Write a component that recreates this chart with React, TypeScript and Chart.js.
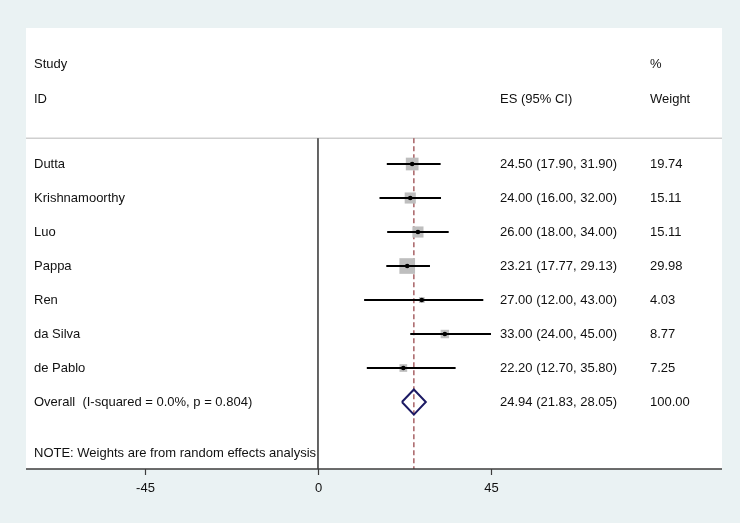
import React, { useEffect, useRef } from "react";
import { Chart, registerables } from "chart.js";

Chart.register(...registerables);

// ---- data ----
const studies = ["Dutta", "Krishnamoorthy", "Luo", "Pappa", "Ren", "da Silva", "de Pablo"];
const esValues = [24.5, 24.0, 26.0, 23.21, 27.0, 33.0, 22.2];
const ciLow = [17.9, 16.0, 18.0, 17.77, 12.0, 24.0, 12.7];
const ciHigh = [31.9, 32.0, 34.0, 29.13, 43.0, 45.0, 35.8];
const weights = [19.74, 15.11, 15.11, 29.98, 4.03, 8.77, 7.25];
const studyRows = [4, 5, 6, 7, 8, 9, 10];

const overallLabel = "Overall  (I-squared = 0.0%, p = 0.804)";
const overallES = 24.94;
const overallLow = 21.83;
const overallHigh = 28.05;
const overallWeight = 100.0;
const overallRow = 11;

const noteText = "NOTE: Weights are from random effects analysis";
const noteRow = 12.5;

const headerStudy = ["Study", "ID"];
const headerES = "ES (95% CI)";
const headerWeight = ["%", "Weight"];
const headerRows = [1.06, 2.09];
const dividerRow = 3.24;

const xTicks = [-45, 0, 45];

// ---- styles ----
const FONT = '13px "Liberation Sans", Arial, sans-serif';
const BG_OUTER = "#EAF2F3";
const TEXT = "#111111";

const fmt = (v: number) => v.toFixed(2);

export default function App() {
  const ref = useRef<HTMLCanvasElement | null>(null);

  useEffect(() => {
    if (!ref.current) return;
    const yMax = 12.97;

    const forestPlugin = {
      id: "forestPlugin",
      beforeDraw(chart: any) {
        const { ctx, chartArea } = chart;
        const xs = chart.scales.x;
        const ys = chart.scales.y;
        ctx.save();
        ctx.fillStyle = "#ffffff";
        ctx.fillRect(0, 0, chart.width, chart.height);
        ctx.fillStyle = BG_OUTER;
        ctx.fillRect(0, 0, 740, 523);
        ctx.fillStyle = "#ffffff";
        ctx.fillRect(chartArea.left, chartArea.top, chartArea.right - chartArea.left, chartArea.bottom - chartArea.top);
        // header divider
        const dy = ys.getPixelForValue(dividerRow);
        ctx.strokeStyle = "#CFCFCF";
        ctx.lineWidth = 1.5;
        ctx.beginPath();
        ctx.moveTo(chartArea.left, dy);
        ctx.lineTo(chartArea.right, dy);
        ctx.stroke();
        ctx.restore();
      },
      afterDatasetsDraw(chart: any) {
        const { ctx, chartArea } = chart;
        const xs = chart.scales.x;
        const ys = chart.scales.y;
        ctx.save();
        ctx.font = FONT;
        ctx.fillStyle = TEXT;
        ctx.textBaseline = "middle";
        ctx.textAlign = "left";
        const leftX = 34;
        const esX = 500;
        const wX = 650;
        // headers
        headerStudy.forEach((t, i) => ctx.fillText(t, leftX, ys.getPixelForValue(headerRows[i])));
        ctx.fillText(headerES, esX, ys.getPixelForValue(headerRows[1]));
        headerWeight.forEach((t, i) => ctx.fillText(t, wX, ys.getPixelForValue(headerRows[i])));
        // studies
        studies.forEach((s, i) => {
          const py = ys.getPixelForValue(studyRows[i]);
          ctx.fillText(s, leftX, py);
          ctx.fillText(`${fmt(esValues[i])} (${fmt(ciLow[i])}, ${fmt(ciHigh[i])})`, esX, py);
          ctx.fillText(fmt(weights[i]), wX, py);
        });
        const oy = ys.getPixelForValue(overallRow);
        ctx.fillText(overallLabel, leftX, oy);
        ctx.fillText(`${fmt(overallES)} (${fmt(overallLow)}, ${fmt(overallHigh)})`, esX, oy);
        ctx.fillText(fmt(overallWeight), wX, oy);
        ctx.fillText(noteText, leftX, ys.getPixelForValue(noteRow));

        // x axis
        ctx.strokeStyle = "#3C3C3C";
        ctx.lineWidth = 1.5;
        ctx.beginPath();
        ctx.moveTo(chartArea.left, chartArea.bottom);
        ctx.lineTo(chartArea.right, chartArea.bottom);
        ctx.stroke();
        ctx.lineWidth = 1.2;
        ctx.textAlign = "center";
        xTicks.forEach((t) => {
          const px = Math.round(xs.getPixelForValue(t)) + 0.5;
          ctx.beginPath();
          ctx.moveTo(px, chartArea.bottom);
          ctx.lineTo(px, chartArea.bottom + 6);
          ctx.stroke();
          ctx.fillText(String(t), px, chartArea.bottom + 19);
        });
        ctx.restore();
      },
    };

    const ciSets = studies.map((s, i) => ({
      label: s + " CI",
      data: [
        { x: ciLow[i], y: studyRows[i] },
        { x: ciHigh[i], y: studyRows[i] },
      ],
      showLine: true,
      borderColor: "#000000",
      borderWidth: 2,
      pointRadius: 0,
      order: 4,
    }));

    const chart = new Chart(ref.current, {
      type: "scatter",
      data: {
        datasets: [
          {
            label: "zero",
            data: [
              { x: 0, y: dividerRow },
              { x: 0, y: yMax },
            ],
            showLine: true,
            borderColor: "#000000",
            borderWidth: 1.2,
            pointRadius: 0,
            order: 10,
          },
          {
            label: "overall line",
            data: [
              { x: overallES, y: dividerRow },
              { x: overallES, y: yMax },
            ],
            showLine: true,
            borderColor: "#9A4A4E",
            borderWidth: 1.3,
            borderDash: [5, 3],
            pointRadius: 0,
            order: 9,
          },
          ...ciSets,
          {
            label: "weights",
            data: studies.map((s, i) => ({ x: esValues[i], y: studyRows[i] })),
            pointStyle: "rect",
            pointRadius: weights.map((w) => (2.86 * Math.sqrt(w)) / Math.SQRT2),
            pointHoverRadius: weights.map((w) => (2.86 * Math.sqrt(w)) / Math.SQRT2),
            backgroundColor: "#BEBEBE",
            borderWidth: 0,
            order: 5,
          },
          {
            label: "estimates",
            data: studies.map((s, i) => ({ x: esValues[i], y: studyRows[i] })),
            pointStyle: "circle",
            pointRadius: 2.3,
            backgroundColor: "#000000",
            borderWidth: 0,
            order: 2,
          },
          {
            label: "overall",
            data: [
              { x: overallLow, y: overallRow },
              { x: overallES, y: overallRow - 0.37 },
              { x: overallHigh, y: overallRow },
              { x: overallES, y: overallRow + 0.37 },
              { x: overallLow, y: overallRow },
            ],
            showLine: true,
            borderColor: "#1C1A64",
            borderWidth: 2,
            borderJoinStyle: "miter",
            pointRadius: 0,
            fill: false,
            tension: 0,
            order: 1,
          },
        ],
      },
      options: {
        responsive: false,
        animation: false,
        events: [],
        layout: { padding: { left: 26, right: 22, top: 28, bottom: 58 } },
        plugins: {
          legend: { display: false },
          tooltip: { enabled: false },
          title: { display: false },
        },
        scales: {
          x: { type: "linear", min: -75.95, max: 105.09, display: false },
          y: { type: "linear", min: 0, max: yMax, reverse: true, display: false },
        },
      },
      plugins: [forestPlugin],
    } as any);

    return () => chart.destroy();
  }, []);

  return (
    <div style={{ position: "absolute", left: 0, top: 0, width: 744, height: 527 }}>
      <canvas ref={ref} width={744} height={527} style={{ width: 744, height: 527, display: "block" }} />
    </div>
  );
}
